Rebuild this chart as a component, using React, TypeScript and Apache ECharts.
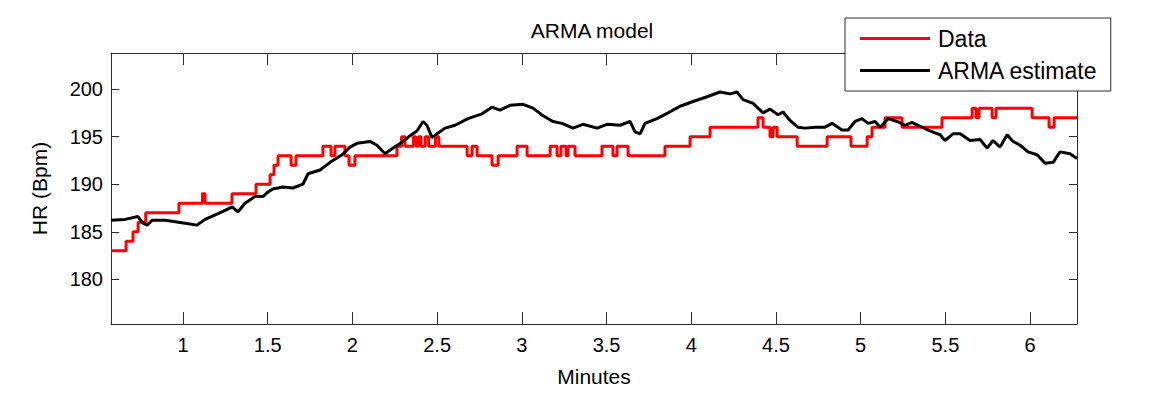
import React, { useEffect, useRef } from "react";
import * as echarts from "echarts";

// Measured heart rate (step data)
const DATA_MIN = [
  0.575, 0.664, 0.705, 0.735, 0.78, 0.976, 1.115, 1.13, 1.289, 1.431, 1.514, 1.537, 1.561,
  1.638, 1.667, 1.826, 1.874, 1.897, 1.956, 1.98, 2.015, 2.263, 2.29, 2.31, 2.36, 2.375,
  2.39, 2.405, 2.43, 2.45, 2.49, 2.51, 2.677, 2.706, 2.736, 2.824, 2.86, 2.972, 3.031,
  3.167, 3.208, 3.231, 3.261, 3.273, 3.314, 3.473, 3.538, 3.562, 3.627, 3.845, 3.993,
  4.111, 4.394, 4.424, 4.465, 4.483, 4.507, 4.625, 4.802, 4.943, 5.038, 5.067, 5.144,
  5.244, 5.48, 5.658, 5.681, 5.699, 5.776, 5.799, 6.012, 6.112, 6.142, 6.277,
];
const DATA_HR = [
  183, 184, 185, 186, 187, 188, 189, 188, 189, 190, 191, 192, 193,
  192, 193, 194, 193, 194, 193, 192, 193, 194, 195, 194, 195, 194,
  195, 194, 195, 194, 195, 194, 193, 194, 193, 192, 193, 194, 193,
  194, 193, 194, 193, 194, 193, 194, 193, 194, 193, 194, 195,
  196, 197, 196, 195, 196, 195, 194, 195, 194, 195, 196, 197,
  196, 197, 198, 197, 198, 197, 198, 197, 196, 197, 197,
];

// ARMA estimate
const ARMA_MIN = [
  0.575, 0.658, 0.734, 0.764, 0.788, 0.817, 0.894, 0.935, 1.012, 1.083, 1.13, 1.207, 1.289,
  1.325, 1.366, 1.425, 1.472, 1.502, 1.531, 1.59, 1.649, 1.708, 1.738, 1.809, 1.868, 1.939,
  1.986, 2.027, 2.104, 2.145, 2.192, 2.24, 2.299, 2.34, 2.381, 2.417, 2.44, 2.47, 2.499,
  2.547, 2.606, 2.682, 2.765, 2.824, 2.871, 2.93, 3.007, 3.066, 3.125, 3.184, 3.237, 3.302,
  3.361, 3.444, 3.503, 3.58, 3.639, 3.668, 3.698, 3.727, 3.798, 3.863, 3.934, 4.011, 4.093,
  4.17, 4.229, 4.27, 4.306, 4.365, 4.424, 4.465, 4.512, 4.542, 4.583, 4.63, 4.672, 4.731,
  4.79, 4.831, 4.89, 4.926, 4.967, 5.008, 5.044, 5.085, 5.115, 5.162, 5.215, 5.262, 5.303,
  5.339, 5.398, 5.439, 5.469, 5.498, 5.545, 5.587, 5.646, 5.705, 5.746, 5.782, 5.823, 5.864,
  5.9, 5.941, 5.988, 6.041, 6.089, 6.136, 6.177, 6.236, 6.277,
];
const ARMA_HR = [
  186.2, 186.3, 186.6, 185.9, 185.7, 186.2, 186.2, 186.1, 185.9, 185.7, 186.3, 186.9, 187.6,
  187.1, 188.0, 188.7, 188.7, 189.2, 189.5, 189.7, 189.6, 190.0, 191.1, 191.5, 192.3, 193.1,
  193.9, 194.3, 194.5, 194.1, 193.2, 193.8, 194.5, 195.1, 195.6, 196.6, 196.2, 194.9, 195.3,
  195.9, 196.2, 196.9, 197.4, 198.1, 197.8, 198.3, 198.4, 198.0, 197.2, 196.6, 196.4, 195.9,
  196.3, 195.9, 196.3, 196.2, 196.6, 195.5, 195.3, 196.4, 196.9, 197.5, 198.2, 198.7, 199.2,
  199.7, 199.5, 199.7, 198.9, 198.5, 197.5, 197.9, 197.3, 197.6, 196.7, 196.0, 195.9, 196.0,
  196.0, 196.4, 195.7, 195.7, 196.6, 196.9, 196.4, 196.6, 196.0, 196.9, 196.6, 196.2, 196.5,
  196.2, 195.7, 195.4, 195.2, 194.6, 195.3, 195.3, 194.6, 194.7, 193.8, 194.6, 193.9, 195.2,
  194.5, 194.1, 193.4, 193.1, 192.2, 192.3, 193.4, 193.2, 192.7,
];

const X_TICKS = [1, 1.5, 2, 2.5, 3, 3.5, 4, 4.5, 5, 5.5, 6];
const Y_TICKS = [180, 185, 190, 195, 200];
const X_MIN = 0.575;
const X_MAX = 6.277;
const Y_MIN = 175.3;
const Y_MAX = 203.8;

const FONT = "'Liberation Sans', Arial, sans-serif";
const AXIS_COLOR = "#2b2b2b";

export default function App() {
  const ref = useRef<HTMLDivElement>(null);
  useEffect(() => {
    document.body.style.margin = "0";
    const chart = echarts.init(ref.current!, null, { renderer: "svg" });
    const dataSeries = DATA_MIN.map((t, i) => [t, DATA_HR[i]]);
    const armaSeries = ARMA_MIN.map((t, i) => [t, ARMA_HR[i]]);

    const xBase = {
      type: "value",
      min: X_MIN,
      max: X_MAX,
      splitLine: { show: false },
      axisLine: { show: true, onZero: false, lineStyle: { color: AXIS_COLOR, width: 1 } },
    };
    const yBase = {
      type: "value",
      min: Y_MIN,
      max: Y_MAX,
      splitLine: { show: false },
      axisLine: { show: true, onZero: false, lineStyle: { color: AXIS_COLOR, width: 1 } },
    };

    chart.setOption({
      animation: false,
      backgroundColor: "#ffffff",
      grid: { left: 111, top: 53, right: 88, bottom: 73, containLabel: false },
      graphic: [
        {
          type: "text",
          x: 592,
          y: 30,
          style: {
            text: "ARMA model",
            fill: "#000",
            font: `21px ${FONT}`,
            textAlign: "center",
            textVerticalAlign: "middle",
          },
        },
      ],
      legend: {
        left: 845,
        top: 18,
        orient: "vertical",
        backgroundColor: "#ffffff",
        borderColor: AXIS_COLOR,
        borderWidth: 1,
        borderRadius: 0,
        padding: [9, 13, 9, 15],
        itemGap: 9,
        itemWidth: 70,
        itemHeight: 3,
        icon: "rect",
        textStyle: { fontFamily: FONT, fontSize: 23, color: "#000", padding: [0, 0, 0, 3] },
        data: ["Data", "ARMA estimate"],
      },
      xAxis: [
        {
          ...xBase,
          position: "bottom",
          name: "Minutes",
          nameLocation: "middle",
          nameGap: 42,
          nameTextStyle: { fontFamily: FONT, fontSize: 21, color: "#000" },
          axisTick: { show: true, inside: true, length: 12, customValues: X_TICKS, lineStyle: { color: AXIS_COLOR } },
          axisLabel: { show: true, customValues: X_TICKS, margin: 11, fontFamily: FONT, fontSize: 20, color: "#000" },
        },
        {
          ...xBase,
          position: "top",
          axisTick: { show: true, inside: true, length: 12, customValues: X_TICKS, lineStyle: { color: AXIS_COLOR } },
          axisLabel: { show: false },
        },
      ],
      yAxis: [
        {
          ...yBase,
          position: "left",
          name: "HR (Bpm)",
          nameLocation: "middle",
          nameGap: 61,
          nameRotate: 90,
          nameTextStyle: { fontFamily: FONT, fontSize: 21, color: "#000" },
          axisTick: { show: true, inside: true, length: 8, customValues: Y_TICKS, lineStyle: { color: AXIS_COLOR } },
          axisLabel: { show: true, customValues: Y_TICKS, margin: 8, fontFamily: FONT, fontSize: 20, color: "#000" },
        },
        {
          ...yBase,
          position: "right",
          axisTick: { show: true, inside: true, length: 8, customValues: Y_TICKS, lineStyle: { color: AXIS_COLOR } },
          axisLabel: { show: false },
        },
      ],
      series: [
        {
          name: "Data",
          type: "line",
          step: "end",
          data: dataSeries,
          symbol: "none",
          showSymbol: false,
          color: "#ff0000",
          lineStyle: { color: "#ff0000", width: 3 },
          xAxisIndex: 0,
          yAxisIndex: 0,
        },
        {
          name: "ARMA estimate",
          type: "line",
          data: armaSeries,
          symbol: "none",
          showSymbol: false,
          color: "#000000",
          lineStyle: { color: "#000000", width: 3 },
          xAxisIndex: 0,
          yAxisIndex: 0,
        },
      ],
    });
    return () => chart.dispose();
  }, []);
  return <div ref={ref} style={{ width: 1165, height: 397 }} />;
}
